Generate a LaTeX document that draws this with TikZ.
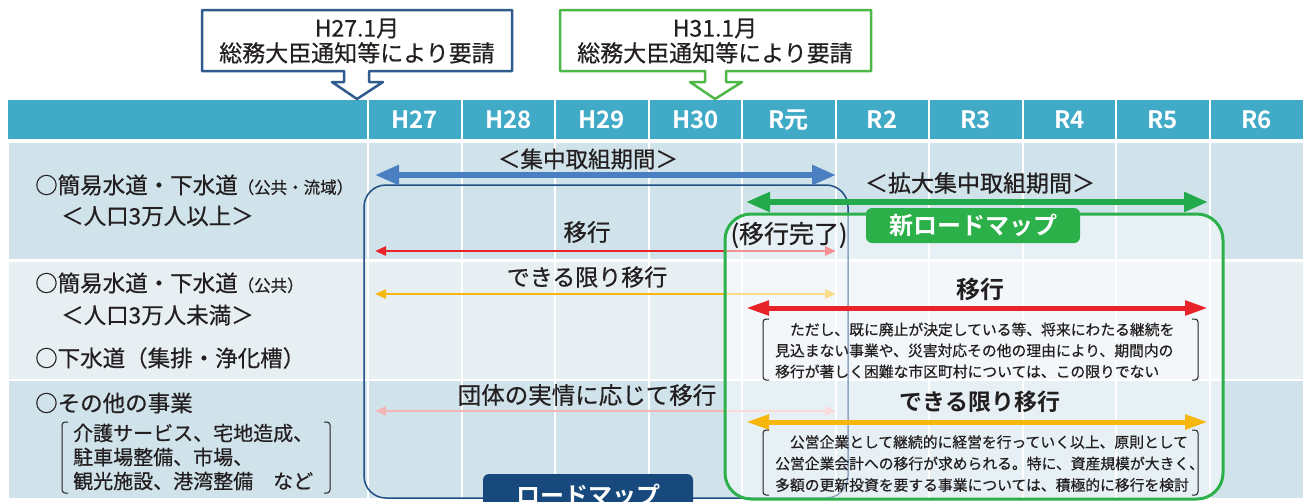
\documentclass[tikz,border=0pt]{standalone}
\usepackage{fontspec}
\setmainfont{Noto Sans CJK JP}[UprightFeatures={FakeBold=0.6}, BoldFont={Noto Sans CJK JP Bold}, BoldFeatures={FakeBold=0}]
\usetikzlibrary{arrows.meta}
\definecolor{hdr}{HTML}{41ABC7}
\definecolor{rowA}{HTML}{D0E3EB}
\definecolor{rowB}{HTML}{E7EFF3}
\definecolor{rmblue}{HTML}{1F4F85}
\definecolor{rmlabel}{HTML}{17497C}
\definecolor{nrgreen}{HTML}{2BB04A}
\definecolor{arrblue}{HTML}{4A80C2}
\definecolor{arrgreen}{HTML}{22AA4C}
\definecolor{arrred}{HTML}{E8242A}
\definecolor{arryel}{HTML}{F6B70F}
\definecolor{arrpink}{HTML}{F2B7B5}
\definecolor{txt}{HTML}{231F20}
\definecolor{callblue}{HTML}{2F5B8E}
\definecolor{callgreen}{HTML}{4DB748}
\newcommand{\fsz}[2]{\fontsize{#1}{#2}\selectfont}
\begin{document}
\begin{tikzpicture}[x=1pt,y=-1pt,
  tx/.style={inner sep=0pt, text=txt},
  hdrtxt/.style={inner sep=0pt, text=white, font=\fsz{24}{26}\bfseries},
  thinarrow/.style={line width=2.6pt, {Triangle[length=11pt,width=9pt]}-{Triangle[length=11pt,width=9pt]}},
  bigarrow/.style={line width=5.5pt, {Triangle[length=24pt,width=19pt]}-{Triangle[length=24pt,width=19pt]}},
  midarrow/.style={line width=5pt, {Triangle[length=23pt,width=14pt]}-{Triangle[length=23pt,width=14pt]}},
  callout/.style={line width=2.5pt, fill=white, line join=round},
  brk/.style={draw=txt, line width=1pt, rounded corners=3pt},
  tag/.style={inner sep=0pt, text=white, font=\fsz{24}{28}\bfseries, rounded corners=6pt}
]
\useasboundingbox (0,0) rectangle (1303,501);
\fill[white] (0,0) rectangle (1303,501);
% table background
\fill[hdr] (8,100) rectangle (1303,139);
\fill[rowA] (9,143) rectangle (1303,259);
\fill[rowB] (9,262) rectangle (1303,379);
\fill[rowA] (9,381) rectangle (1303,498);
\foreach \i in {0,...,9} \draw[white, line width=2pt] ({368+93.5*\i},100) -- ({368+93.5*\i},498);
\foreach \lab [count=\i from 0] in {H27,H28,H29,H30,R元,R2,R3,R4,R5,R6}
  \node[hdrtxt] (h\i) at ({368+93.5*\i+46.75},120) {\lab};

% callouts
\draw[callout, draw=callblue] (202,10) -- (512,10) -- (512,71) -- (369,71) -- (369,82) -- (383,82) -- (357,99) -- (332,82) -- (344,82) -- (344,71) -- (202,71) -- cycle;
\node[tx, align=center, font=\fsz{23}{25}] (c1) at (357,41) {H27.1月\\総務大臣通知等により要請};
\draw[callout, draw=callgreen] (560,10) -- (871,10) -- (871,71) -- (726,71) -- (726,82) -- (742,82) -- (715,99) -- (690,82) -- (705,82) -- (705,71) -- (560,71) -- cycle;
\node[tx, align=center, font=\fsz{23}{25}] (c2) at (715,41) {H31.1月\\総務大臣通知等により要請};

% roadmap box
\draw[rmblue, line width=1.5pt, rounded corners=22pt] (364,185) rectangle (848,498);

% left arrows
\coordinate (ra) at (375,251); \coordinate (rb) at (836,251);
\draw[thinarrow, arrred] (ra) -- (rb);
\coordinate (ya) at (375,294); \coordinate (yb) at (836,294);
\draw[thinarrow, arryel] (ya) -- (yb);
\coordinate (pa) at (375,411); \coordinate (pb) at (836,411);
\draw[thinarrow, arrpink] (pa) -- (pb);

% new roadmap box (lightening overlay)
\draw[nrgreen, line width=3pt, rounded corners=26pt, fill=white, fill opacity=0.5] (725,214) rectangle (1223,499);

% big arrows
\coordinate (ba) at (375,175); \coordinate (bb) at (836,175);
\draw[bigarrow, arrblue] (ba) -- (bb);
\coordinate (ga) at (746,202); \coordinate (gb) at (1208,202);
\draw[bigarrow, arrgreen] (ga) -- (gb);
\coordinate (rra) at (746,308); \coordinate (rrb) at (1208,308);
\draw[midarrow, arrred] (rra) -- (rrb);
\coordinate (yya) at (746,422); \coordinate (yyb) at (1208,422);
\draw[midarrow, arryel] (yya) -- (yyb);

% labels on tags
\node[tag, fill=nrgreen, minimum width=214pt, minimum height=35pt] (nrm) at (973,225.5) {新ロードマップ};
\node[tag, fill=rmlabel, minimum width=210pt, minimum height=42pt] (rm) at (588,495) {ロードマップ};

% period labels
\node[tx, font=\fsz{22.5}{26}] (p1) at (588,159) {＜集中取組期間＞};
\node[tx, font=\fsz{23}{26}] (p2) at (980,183) {＜拡大集中取組期間＞};
\node[tx, font=\fsz{23.5}{26}] (m1) at (587,232) {移行};
\node[tx, font=\fsz{25}{28}] (m1b) at (789,235) {(移行完了)};
\node[tx, font=\fsz{23}{26}] (m2) at (587,277) {できる限り移行};
\node[tx, font=\fsz{24}{26}\bfseries] (m2b) at (980,289) {移行};
\node[tx, font=\fsz{23.5}{26}] (m3) at (587,395) {団体の実情に応じて移行};
\node[tx, font=\fsz{23}{26}\bfseries] (m3b) at (980,402) {できる限り移行};

% notes
\draw[brk] (769,319) -- (763,319) -- (763,380) -- (769,380);
\draw[brk] (1192,319) -- (1198,319) -- (1198,380) -- (1192,380);
\node[tx, anchor=west, align=left, font=\fsz{14.8}{21}] (n1) at (775,350.5) {　ただし、既に廃止が決定している等、将来にわたる継続を\\見込まない事業や、災害対応その他の理由により、期間内の\\移行が著しく困難な市区町村については、この限りでない};
\draw[brk] (769,430) -- (763,430) -- (763,495) -- (769,495);
\draw[brk] (1192,430) -- (1198,430) -- (1198,495) -- (1192,495);
\node[tx, anchor=west, align=left, font=\fsz{14.8}{21.5}] (n2) at (775,463.5) {　公営企業として継続的に経営を行っていく以上、原則として\\公営企業会計への移行が求められる。特に、資産規模が大きく、\\多額の更新投資を要する事業については、積極的に移行を検討};

% left column
\node[tx, anchor=west, font=\fsz{22.5}{26}] (l1) at (35,185) {○簡易水道・下水道{\fsz{16.5}{18}（公共・流域）}};
\node[tx, anchor=west, font=\fsz{22.5}{26}] (l1b) at (61,216) {＜人口3万人以上＞};
\node[tx, anchor=west, font=\fsz{22.5}{26}] (l2) at (35,283) {○簡易水道・下水道{\fsz{16.5}{18}（公共）}};
\node[tx, anchor=west, font=\fsz{22.5}{26}] (l2b) at (61,315) {＜人口3万人未満＞};
\node[tx, anchor=west, font=\fsz{22.5}{26}] (l3) at (35,358) {○下水道（集排・浄化槽）};
\node[tx, anchor=west, font=\fsz{22.5}{26}] (l4) at (35,403) {○その他の事業};
\draw[brk] (68,422) -- (62,422) -- (62,493) -- (68,493);
\draw[brk] (324,422) -- (330,422) -- (330,493) -- (324,493);
\node[tx, anchor=west, align=left, font=\fsz{20}{24}] (l5) at (73,457) {介護サービス、宅地造成、\\駐車場整備、市場、\\観光施設、港湾整備　など};
\end{tikzpicture}
\end{document}
